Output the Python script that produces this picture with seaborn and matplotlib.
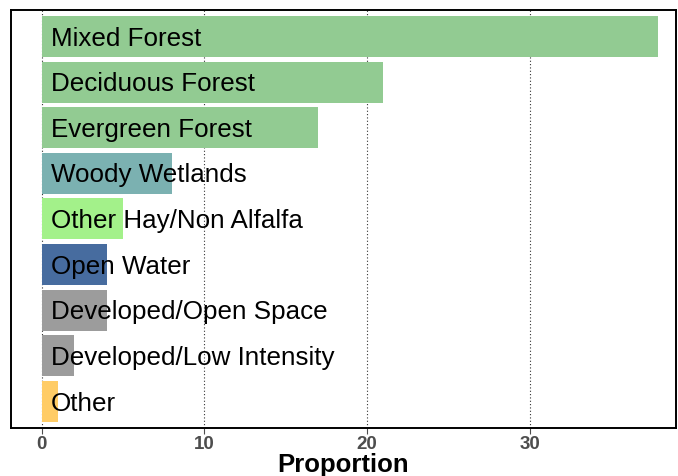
import matplotlib
matplotlib.use("Agg")
import matplotlib.pyplot as plt
import pandas as pd
import seaborn as sns

# land cover categories and their proportions
categories = ["Mixed Forest", "Deciduous Forest", "Evergreen Forest", "Woody Wetlands",
              "Other Hay/Non Alfalfa", "Open Water", "Developed/Open Space",
              "Developed/Low Intensity", "Other"]
proportions = [37.9, 21.0, 17.0, 8.0, 5.0, 4.0, 4.0, 2.0, 1.0]
bar_colors = ["#92CB92", "#92CB92", "#92CB92", "#7BB1B1", "#A3F18A",
              "#476C9F", "#9C9C9C", "#9C9C9C", "#FFCC66"]
x_ticks = [0, 10, 20, 30]

data = pd.DataFrame({"category": categories, "Proportion": proportions})

sns.set_style("white")
plt.rcParams["font.family"] = ["Liberation Sans", "DejaVu Sans"]

fig = plt.figure(figsize=(6.78, 4.76), dpi=100)
ax = fig.add_axes([0.016, 0.101, 0.981, 0.878])

sns.barplot(data=data, x="Proportion", y="category", hue="category",
            palette=dict(zip(categories, bar_colors)), legend=False,
            width=0.9, saturation=1, linewidth=0, ax=ax, zorder=2)

# labels drawn inside the bars
for i, name in enumerate(categories):
    ax.text(0.55, i + 0.2, name, va="baseline", ha="left", fontsize=18.7,
            color="black", zorder=3)

ax.set_xlim(-1.9, 39.0)
ax.set_ylim(8.58, -0.58)
ax.set_xticks(x_ticks)
ax.set_xticklabels([str(t) for t in x_ticks], fontsize=13.5, fontweight="bold",
                   color="#4D4D4D")
ax.tick_params(axis="x", bottom=True, length=4, width=0.8, color="#4D4D4D", pad=2)
ax.set_yticks([])
ax.set_ylabel("")
ax.set_xlabel("Proportion", fontsize=18.5, fontweight="bold", color="black", labelpad=0)

ax.grid(axis="x", linestyle=(0, (1, 2)), color="#333333", linewidth=0.8, zorder=0)
ax.set_axisbelow(True)
for s in ax.spines.values():
    s.set_color("black")
    s.set_linewidth(1.4)

plt.savefig("out.png", dpi=100)
